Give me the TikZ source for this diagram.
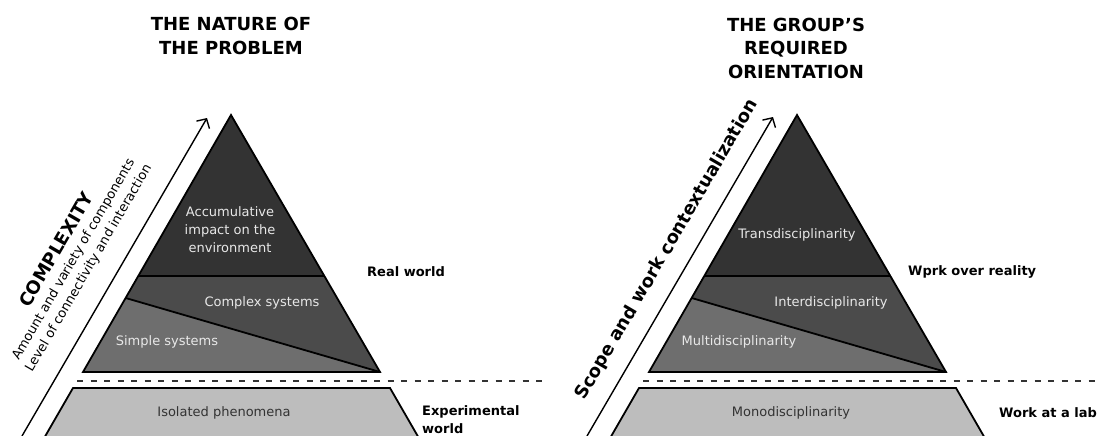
\documentclass[tikz,border=0pt]{standalone}
\usepackage{fontspec}
\setmainfont{DejaVu Sans}
\usepackage{xcolor}
\usepackage{tikz}
\usetikzlibrary{arrows.meta,positioning,calc}

\definecolor{topgray}{HTML}{333333}
\definecolor{midgray}{HTML}{4B4B4B}
\definecolor{lowgray}{HTML}{6E6E6E}
\definecolor{basegray}{HTML}{BDBDBD}
\definecolor{lbltext}{HTML}{E8E8E8}

\begin{document}
\begin{tikzpicture}[
    x=1pt, y=-1pt,
    level/.style={draw=black, line width=1.8pt},
    inlabel/.style={font=\fontsize{13}{18}\selectfont, text=lbltext, align=center, inner sep=0pt},
    sidelabel/.style={font=\fontsize{13}{18}\selectfont\bfseries, align=left, anchor=west, inner sep=0pt},
    title/.style={font=\fontsize{18}{23.5}\selectfont\bfseries, align=center, inner sep=0pt},
    axislabel/.style={font=\fontsize{13}{17.5}\selectfont, align=center, inner sep=0pt, sloped},
    axistitle/.style={font=\fontsize{18}{22}\selectfont\bfseries, inner sep=0pt, text depth=0pt, sloped},
    arrow/.style={-{Straight Barb[length=7pt,width=15pt]}, line width=1.4pt},
    divider/.style={dash pattern=on 6pt off 7.5pt, line width=1.8pt, draw=black!80}
]
\useasboundingbox (0,0) rectangle (1106,436);

% Left pyramid
\coordinate (L-apex) at (231,115);
\coordinate (L-bl) at (83,372);
\coordinate (L-br) at (380,372);
\coordinate (L-hl) at ($(L-apex)!0.6265!(L-bl)$);
\coordinate (L-hr) at ($(L-apex)!0.6265!(L-br)$);
\coordinate (L-dl) at ($(L-apex)!0.712!(L-bl)$);

\fill[topgray] (L-apex) -- (L-bl) -- (L-br) -- cycle;
\fill[midgray] (L-hl) -- (L-hr) -- (L-br) -- (L-bl) -- cycle;
\fill[lowgray] (L-dl) -- (L-br) -- (L-bl) -- cycle;
\draw[level] (L-apex) -- (L-bl) -- (L-br) -- cycle;
\draw[level] (L-hl) -- (L-hr);
\draw[level] (L-dl) -- (L-br);

% Left base
\filldraw[level, fill=basegray] (43,440) -- (73,388) -- (390,388) -- (420,440);

\node[inlabel] (accum) at (230,230) {Accumulative\\impact on the\\environment};
\node[inlabel] (complex) at (262,303) {Complex systems};
\node[inlabel] (simple) at (167,342) {Simple systems};
\node[inlabel, text=topgray] (isolated) at (224,413) {Isolated phenomena};

\node[title] (L-title) at (231,36) {THE NATURE OF\\THE PROBLEM};
\node[sidelabel] (realw) at (367,272) {Real world};
\node[sidelabel] (expw) at (422,420) {Experimental\\world};

% Left axis
\coordinate (L-foot) at (22,436);
\coordinate (L-tip) at (207,118);
\draw[arrow] (L-foot) -- (L-tip)
    node[axislabel, pos=.485, above=19.5pt] (cplx)
    {{\fontsize{18}{22}\selectfont\bfseries COMPLEXITY}\\Amount and variety of components\\Level of connectivity and interaction};

% Right pyramid
\coordinate (R-apex) at (797,115);
\coordinate (R-bl) at (649,372);
\coordinate (R-br) at (946,372);
\coordinate (R-hl) at ($(R-apex)!0.6265!(R-bl)$);
\coordinate (R-hr) at ($(R-apex)!0.6265!(R-br)$);
\coordinate (R-dl) at ($(R-apex)!0.712!(R-bl)$);

\fill[topgray] (R-apex) -- (R-bl) -- (R-br) -- cycle;
\fill[midgray] (R-hl) -- (R-hr) -- (R-br) -- (R-bl) -- cycle;
\fill[lowgray] (R-dl) -- (R-br) -- (R-bl) -- cycle;
\draw[level] (R-apex) -- (R-bl) -- (R-br) -- cycle;
\draw[level] (R-hl) -- (R-hr);
\draw[level] (R-dl) -- (R-br);

% Right base
\filldraw[level, fill=basegray] (609,440) -- (639,388) -- (956,388) -- (986,440);

\node[inlabel] (trans) at (797,235) {Transdisciplinarity};
\node[inlabel] (inter) at (831,303) {Interdisciplinarity};
\node[inlabel] (multi) at (739,342) {Multidisciplinarity};
\node[inlabel, text=topgray] (mono) at (791,413) {Monodisciplinarity};

\node[title] (R-title) at (796,48) {THE GROUP’S\\REQUIRED\\ORIENTATION};
\node[sidelabel] (reality) at (908,272) {Wprk over reality};
\node[sidelabel] (lab) at (999,413) {Work at a lab};

% Right axis
\coordinate (R-foot) at (587,436);
\coordinate (R-tip) at (773,117);
\draw[arrow] (R-foot) -- (R-tip)
    node[axistitle, pos=.545, above=19pt] (scope) {Scope and work contextualization};

% Dividers
\coordinate (L-dash) at (77,381);
\coordinate (L-dashend) at (545,381);
\coordinate (R-dash) at (643,381);
\coordinate (R-dashend) at (1100,381);
\draw[divider] (L-dash) -- (L-dashend);
\draw[divider] (R-dash) -- (R-dashend);

\end{tikzpicture}
\end{document}
